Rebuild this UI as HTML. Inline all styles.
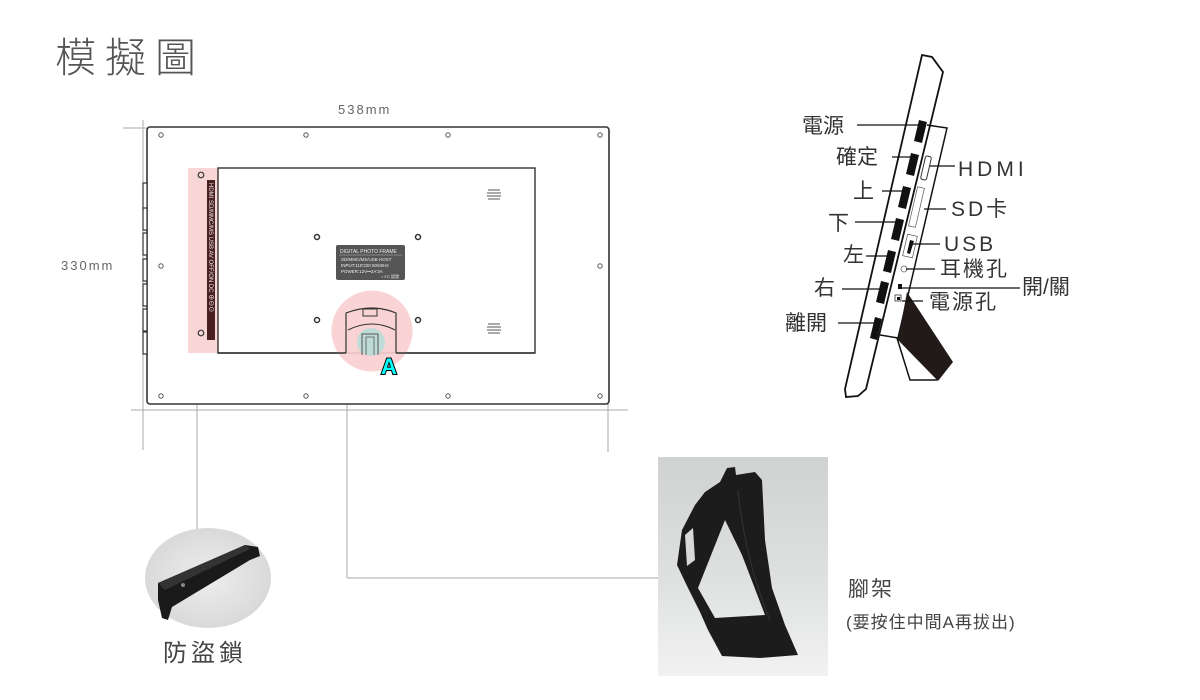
<!DOCTYPE html>
<html><head><meta charset="utf-8"><style>
html,body{margin:0;padding:0;background:#fff;}
body{width:1200px;height:700px;overflow:hidden;position:relative;font-family:"Liberation Sans","Noto Sans CJK TC",sans-serif;}
</style></head><body>
<svg width="1200" height="700" viewBox="0 0 1200 700" xmlns="http://www.w3.org/2000/svg" style="position:absolute;left:0;top:0">
<defs>
<radialGradient id="lg" cx="0.5" cy="0.5" r="0.6"><stop offset="0" stop-color="#ededed"/><stop offset="1" stop-color="#d4d6d4"/></radialGradient>
<linearGradient id="sg" x1="0" y1="0" x2="0" y2="1"><stop offset="0" stop-color="#d0d2d2"/><stop offset="0.6" stop-color="#e0e2e2"/><stop offset="1" stop-color="#f2f2f2"/></linearGradient>
</defs>
<text x="55" y="72" font-size="41" letter-spacing="9" fill="#555" font-weight="300">模擬圖</text>
<!-- dimension lines -->
<g stroke="#aaa" stroke-width="1" fill="none">
<line x1="143" y1="120" x2="143" y2="450"/>
<line x1="608" y1="404" x2="608" y2="452"/>
<line x1="131" y1="410" x2="628" y2="410"/>
<line x1="123" y1="128" x2="147" y2="128"/>
<line x1="197" y1="353" x2="197" y2="530"/>
<line x1="347" y1="370" x2="347" y2="578"/>
<line x1="347" y1="578" x2="658" y2="578"/>
<line x1="317" y1="237" x2="418" y2="237" stroke="#bbb"/>
<line x1="317" y1="237" x2="317" y2="320" stroke="#bbb"/>
</g>
<text x="338" y="114" font-size="13" fill="#666" letter-spacing="2">538mm</text>
<text x="61" y="270" font-size="13" fill="#666" letter-spacing="2">330mm</text>
<text x="336" y="229" font-size="11" fill="#888" letter-spacing="1.5">100mm</text>
<text x="268" y="278" font-size="11" fill="#888" letter-spacing="1.5">100mm</text>
<text x="387" y="230" font-size="7" fill="#222" font-weight="bold">VESA壁掛架</text>
<!-- frame -->
<rect x="147" y="127" width="462" height="277" rx="3" fill="#fff" stroke="#333" stroke-width="1.6"/>
<g fill="#fff" stroke="#333" stroke-width="1.2">
<rect x="143" y="183" width="4" height="28"/><rect x="143" y="208" width="4" height="22"/><rect x="143" y="233" width="4" height="22"/><rect x="143" y="259" width="4" height="22"/><rect x="143" y="284" width="4" height="22"/><rect x="143" y="309" width="4" height="22"/><rect x="143" y="332" width="4" height="22"/>
</g>
<rect x="188" y="168" width="30" height="185" fill="#f9d6d6"/>
<rect x="207" y="180" width="8" height="160" fill="#4a1f1f"/>
<text transform="translate(209,183) rotate(90)" font-size="6" fill="#eee">HDMI   SD/MMC/MS   USB   AV  OFF/ON   DC ⊕⊖⊙</text>
<circle cx="201" cy="175" r="2.8" fill="none" stroke="#333" stroke-width="1.2"/>
<circle cx="201" cy="333" r="2.8" fill="none" stroke="#333" stroke-width="1.2"/>
<rect x="218" y="168" width="317" height="185" fill="#fff" stroke="#333" stroke-width="1.4"/>
<g fill="none" stroke="#555" stroke-width="1">
<circle cx="161" cy="135" r="2.2"/><circle cx="306" cy="135" r="2.2"/><circle cx="448" cy="135" r="2.2"/><circle cx="600" cy="135" r="2.2"/>
<circle cx="161" cy="266" r="2.2"/><circle cx="600" cy="266" r="2.2"/>
<circle cx="161" cy="396" r="2.2"/><circle cx="306" cy="396" r="2.2"/><circle cx="448" cy="396" r="2.2"/><circle cx="600" cy="396" r="2.2"/>
</g>
<g fill="none" stroke="#333" stroke-width="1.5">
<circle cx="317" cy="237" r="2.5"/><circle cx="418" cy="237" r="2.5"/><circle cx="317" cy="320" r="2.5"/><circle cx="418" cy="320" r="2.5"/>
</g>
<g stroke="#555" stroke-width="1">
<line x1="488" y1="190" x2="500" y2="190"/><line x1="487" y1="193" x2="501" y2="193"/><line x1="487" y1="196" x2="501" y2="196"/><line x1="488" y1="199" x2="500" y2="199"/>
<line x1="488" y1="324" x2="500" y2="324"/><line x1="487" y1="327" x2="501" y2="327"/><line x1="487" y1="330" x2="501" y2="330"/><line x1="488" y1="333" x2="500" y2="333"/>
</g>
<rect x="336" y="245" width="69" height="35" rx="2" fill="#555"/>
<text x="340" y="253" font-size="5" fill="#eee">DIGITAL PHOTO FRAME</text>
<line x1="339" y1="255" x2="402" y2="255" stroke="#bbb" stroke-width="0.5"/>
<text x="341" y="261" font-size="4.5" fill="#eee">SD/MMC/MS/USB HOST</text>
<text x="341" y="267" font-size="4.5" fill="#eee">INPUT:110'220  50/60Hz</text>
<text x="341" y="273" font-size="4.5" fill="#eee">POWER:12V⎓2A'3A</text>
<text x="381" y="278" font-size="4" fill="#eee">○ FC 認證</text>
<circle cx="372" cy="331" r="40.5" fill="#f9cfcf" opacity="0.9"/>
<path d="M346,353 V313 Q372,303 396,313 V353" fill="none" stroke="#333" stroke-width="1.2"/>
<path d="M348,330 Q372,318 395,330" fill="none" stroke="#333" stroke-width="1"/>
<rect x="363" y="309" width="14" height="7" fill="none" stroke="#333" stroke-width="1"/>
<line x1="218" y1="353" x2="346" y2="353" stroke="#333" stroke-width="1.4"/>
<line x1="396" y1="353" x2="535" y2="353" stroke="#333" stroke-width="1.4"/>
<circle cx="371" cy="342" r="14" fill="#b8dcd6" opacity="0.9"/>
<path d="M362,355 V334 H378 V355" fill="none" stroke="#555" stroke-width="1"/>
<path d="M366,355 V337 H374 V355" fill="none" stroke="#555" stroke-width="0.8"/>
<text x="381" y="374" font-size="22" font-weight="bold" fill="#0ff" stroke="#000" stroke-width="2" paint-order="stroke">A</text>
<!-- side view -->
<path d="M922,55 L932,57 L943,72 L866,389 L858,396 L846,397 L845,389 Z" fill="#fff" stroke="#111" stroke-width="1.8"/>
<path d="M927,125 L947,128 L898,338 L880,335" fill="none" stroke="#111" stroke-width="1.5"/>
<path d="M907,292 L953,362 L938,381 L898,340 Z" fill="#211a18"/>
<path d="M897,338 L910,380 L937,380" fill="none" stroke="#111" stroke-width="1.5"/>
<g fill="#111">
<polygon points="919,120 927,122 922,143 914,141"/>
<polygon points="911,153 919,155 914,176 906,174"/>
<polygon points="903,186 911,188 906,209 898,207"/>
<polygon points="896,218 904,220 899,241 891,239"/>
<polygon points="888,250 896,252 891,273 883,271"/>
<polygon points="881,281 889,283 884,304 876,302"/>
<polygon points="875,317 882,319 877,340 870,338"/>
</g>
<rect x="923" y="156" width="6" height="24" rx="2" fill="none" stroke="#333" stroke-width="1" transform="rotate(13 926 168)"/>
<rect x="913" y="187" width="7" height="40" fill="none" stroke="#555" stroke-width="0.7" transform="rotate(13 916 207)"/>
<rect x="905" y="235" width="10" height="22" fill="none" stroke="#555" stroke-width="0.7" transform="rotate(13 910 246)"/>
<polygon points="910,240 914,241 910,254 907,253" fill="#111"/>
<circle cx="904" cy="269" r="3" fill="none" stroke="#666" stroke-width="0.8"/>
<rect x="898" y="284" width="4" height="5" fill="#111"/>
<rect x="895" y="295" width="6" height="6" fill="none" stroke="#333" stroke-width="0.8"/><rect x="897" y="297" width="3" height="3" fill="#111"/>
<g stroke="#111" stroke-width="1.2">
<line x1="857" y1="125" x2="919" y2="125"/>
<line x1="892" y1="157" x2="911" y2="157"/>
<line x1="882" y1="191" x2="903" y2="191"/>
<line x1="855" y1="222" x2="896" y2="222"/>
<line x1="866" y1="256" x2="888" y2="256"/>
<line x1="842" y1="289" x2="881" y2="289"/>
<line x1="838" y1="323" x2="875" y2="323"/>
<line x1="930" y1="166" x2="955" y2="166"/>
<line x1="924" y1="209" x2="946" y2="209"/>
<line x1="913" y1="244" x2="940" y2="244"/>
<line x1="906" y1="269" x2="935" y2="269"/>
<line x1="902" y1="288" x2="1020" y2="288"/>
<line x1="902" y1="301" x2="923" y2="301"/>
</g>
<g font-size="21" fill="#333">
<text x="802" y="133">電源</text>
<text x="836" y="164">確定</text>
<text x="853" y="198">上</text>
<text x="828" y="230">下</text>
<text x="843" y="262">左</text>
<text x="814" y="295">右</text>
<text x="785" y="330">離開</text>
<text x="958" y="176" letter-spacing="4">HDMI</text>
<text x="951" y="216" letter-spacing="3">SD卡</text>
<text x="944" y="251" letter-spacing="3">USB</text>
<text x="940" y="276" letter-spacing="2">耳機孔</text>
<text x="1022" y="294">開/關</text>
<text x="929" y="309" letter-spacing="2">電源孔</text>
</g>
<!-- lock photo -->
<ellipse cx="208" cy="578" rx="63" ry="50" fill="url(#lg)"/>
<path d="M158,583 L245,545 L258,547 L260,556 L250,560 L172,607 L168,620 L162,618 L158,600 Z" fill="#1a1a1a"/>
<path d="M158,583 L245,545 L250,549 L165,590 Z" fill="#333"/>
<circle cx="183" cy="585" r="2" fill="#888"/>
<text x="163" y="661" font-size="24" fill="#444" letter-spacing="4">防盜鎖</text>
<!-- stand photo -->
<rect x="658" y="457" width="170" height="219" fill="url(#sg)"/>
<path fill-rule="evenodd" fill="#1c1c1c" d="M727,468 L735,467 L736,475 L755,472 L762,480 L765,540 L772,588 L785,625 L798,655 L760,658 L722,656 L708,630 L700,612 L688,588 L677,565 L682,530 L695,505 L705,492 L720,482 Z M725,520 L742,555 L765,615 L715,618 L698,588 Z"/>
<path d="M685,535 L693,528 L695,560 L687,566 Z" fill="#d8d8d8"/>
<path d="M738,490 Q745,560 770,620" fill="none" stroke="#333" stroke-width="1"/>
<text x="848" y="596" font-size="21" fill="#444" letter-spacing="2">腳架</text>
<text x="846" y="628" font-size="17" fill="#444" letter-spacing="1">(要按住中間A再拔出)</text>
</svg>
</body></html>
